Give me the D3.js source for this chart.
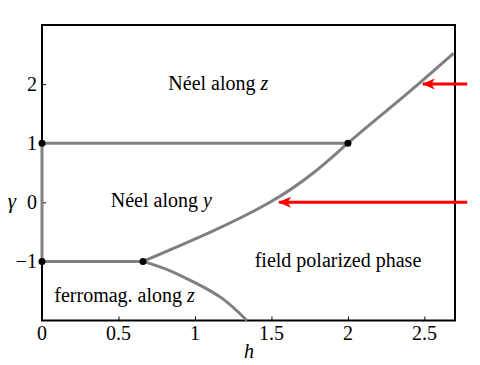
<html>
<head>
<script src="https://d3js.org/d3.v7.min.js"></script>
<style>
  body { margin: 0; background: #fff; }
</style>
</head>
<body>
<script>
// tick values
var xTicks = [0, 0.5, 1, 1.5, 2, 2.5];
var yTicks = [-1, 0, 1, 2];

// phase boundaries [h, gamma]
var upperBoundary = [[0.66, -1], [1.105, -0.5], [1.49, 0], [1.775, 0.5], [2.0, 1],
                     [2.23, 1.5], [2.46, 2], [2.69, 2.52]];
var lowerBoundary = [[0.66, -1], [0.83, -1.15], [1.0, -1.36], [1.18, -1.63], [1.34, -2]];
var lineOne = [[0, 1], [2.0, 1]];
var lineMinusOne = [[0, -1], [0.66, -1]];
var lineAxis = [[0, -1], [0, 1]];
var criticalPoints = [[0, 1], [2.0, 1], [0, -1], [0.66, -1]];

// red arrows [fromH, toH, gamma]
var arrows = [[2.78, 2.49, 2], [2.78, 1.55, 0]];

// phase labels [h, gamma, text, italic letter]
var phaseLabels = [[1.153, 2.0, "Néel along ", "z"],
                   [0.78, 0.02, "Néel along ", "y"],
                   [1.935, -1.0, "field polarized phase", ""],
                   [0.54, -1.58, "ferromag. along ", "z"]];

var font = "'Liberation Serif', 'Times New Roman', Times, 'DejaVu Serif', serif";

var svg = d3.select("body").append("svg").attr("width", 480).attr("height", 365)
  .attr("font-family", font);

var x = d3.scaleLinear().domain([0, 2.7]).range([42, 455]);
var y = d3.scaleLinear().domain([-2, 3]).range([320.5, 25]);

var line = d3.line().x(function(d){ return x(d[0]); }).y(function(d){ return y(d[1]); });
var curve = d3.line().curve(d3.curveNatural).x(function(d){ return x(d[0]); }).y(function(d){ return y(d[1]); });

// frame
svg.append("rect")
  .attr("x", x(0)).attr("y", y(3))
  .attr("width", x(2.7) - x(0)).attr("height", y(-2) - y(3))
  .style("fill", "none").style("stroke", "black").style("stroke-width", 2);

// axes with inward ticks
var xAxis = d3.axisTop(x).tickValues(xTicks).tickSize(4).tickFormat("");
svg.append("g").attr("transform", "translate(0," + y(-2) + ")").call(xAxis)
  .call(function(g){ g.select(".domain").remove(); });
var yAxis = d3.axisRight(y).tickValues(yTicks).tickSize(4).tickFormat("");
svg.append("g").attr("transform", "translate(" + x(0) + ",0)").call(yAxis)
  .call(function(g){ g.select(".domain").remove(); });

svg.selectAll("text.xt").data(xTicks).enter().append("text")
  .attr("class", "xt").style("font-family", font)
  .attr("x", function(d){ return x(d); }).attr("y", 340)
  .attr("text-anchor", "middle").style("font-size", "20px")
  .text(function(d){ return d; });

svg.selectAll("text.yt").data(yTicks).enter().append("text")
  .attr("class", "yt").style("font-family", font)
  .attr("x", 37).attr("y", function(d){ return y(d) + 7; })
  .attr("text-anchor", "end").style("font-size", "20px")
  .text(function(d){ return d < 0 ? "\u2212" + Math.abs(d) : d; });

svg.append("text").attr("x", 12).attr("y", y(0) + 6).style("font-family", font)
  .attr("text-anchor", "middle").style("font-size", "21px").style("font-style", "italic")
  .text("\u03b3");
svg.append("text").attr("x", 249).attr("y", 358).style("font-family", font)
  .attr("text-anchor", "middle").style("font-size", "20px").style("font-style", "italic")
  .text("h");

// boundaries
[lineOne, lineMinusOne, lineAxis].forEach(function(l){
  svg.append("path").attr("d", line(l))
    .style("fill", "none").style("stroke", "#808080").style("stroke-width", 3);
});
[upperBoundary, lowerBoundary].forEach(function(l){
  svg.append("path").attr("d", curve(l))
    .style("fill", "none").style("stroke", "#808080").style("stroke-width", 3);
});

svg.selectAll("circle.cp").data(criticalPoints).enter().append("circle")
  .attr("class", "cp")
  .attr("cx", function(d){ return x(d[0]); }).attr("cy", function(d){ return y(d[1]); })
  .attr("r", 3.5).style("fill", "black");

// arrows
svg.append("defs").append("marker")
  .attr("id", "head").attr("markerUnits", "userSpaceOnUse")
  .attr("viewBox", "0 -6 14 12").attr("refX", 12).attr("refY", 0)
  .attr("markerWidth", 14).attr("markerHeight", 12).attr("orient", "auto")
  .append("path").attr("d", "M0,-5.5 L13,0 L0,5.5 L3.5,0 Z").style("fill", "red");

svg.selectAll("line.arrow").data(arrows).enter().append("line")
  .attr("class", "arrow")
  .attr("x1", function(d){ return x(d[0]); }).attr("y1", function(d){ return y(d[2]); })
  .attr("x2", function(d){ return x(d[1]); }).attr("y2", function(d){ return y(d[2]); })
  .style("stroke", "red").style("stroke-width", 3)
  .attr("marker-end", "url(#head)");

// phase labels
phaseLabels.forEach(function(p){
  var t = svg.append("text").style("font-family", font)
    .attr("x", x(p[0])).attr("y", y(p[1]) + 6)
    .attr("text-anchor", "middle").style("font-size", "20px");
  t.append("tspan").text(p[2]);
  if (p[3]) t.append("tspan").style("font-style", "italic").text(p[3]);
});
</script>
</body>
</html>
